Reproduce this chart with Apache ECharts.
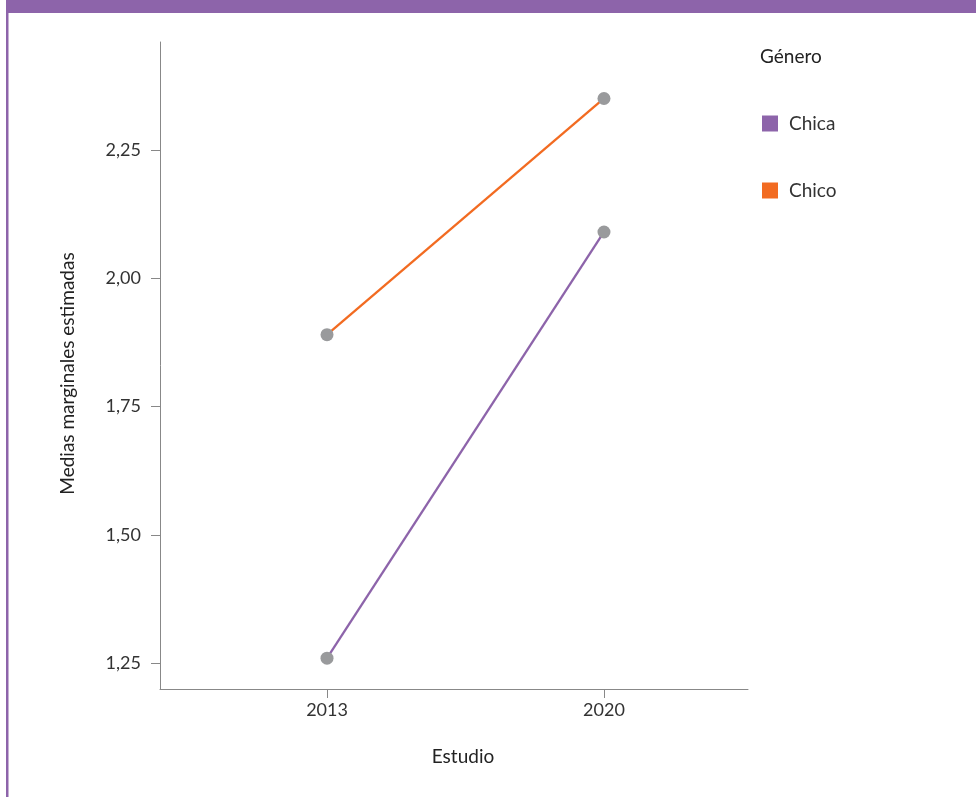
<!DOCTYPE html>
<html><head><meta charset="utf-8">
<script src="https://cdn.jsdelivr.net/npm/echarts@6/dist/echarts.min.js"></script>
<style>html,body{margin:0;padding:0;background:#fff}#c{width:976px;height:797px}</style>
</head><body><div id="c"></div>
<script>
const years = ['2013', '2020'];
const chica = [1.26, 2.09];
const chico = [1.89, 2.35];
const yTicks = [1.25, 1.5, 1.75, 2.0, 2.25];
const seriesNames = ['Chica', 'Chico'];
const colors = ['#8d64aa', '#f26b21'];

const chart = echarts.init(document.getElementById('c'), null, {renderer: 'canvas'});
const font = 'Lato, "Open Sans", sans-serif';
const xs = years.map((y, i) => i);
function toPts(vals) { return vals.map((v, i) => [xs[i], v]); }

chart.setOption({
  animation: false,
  textStyle: {fontFamily: font},
  graphic: [
    {type: 'rect', shape: {x: 6, y: 0, width: 970, height: 13}, style: {fill: '#8d64aa'}},
    {type: 'rect', shape: {x: 6, y: 0, width: 2.5, height: 797}, style: {fill: '#8d64aa'}}
  ],
  title: {text: 'Género', left: 760, top: 47, padding: 0, textStyle: {fontSize: 19, fontWeight: 'normal', color: '#222', fontFamily: font}},
  legend: {
    orient: 'vertical', left: 762, top: 114, padding: 0, itemWidth: 16, itemHeight: 16, itemGap: 48,
    icon: 'rect',
    textStyle: {fontSize: 19, lineHeight: 16, color: '#333', fontFamily: font, padding: [0, 0, 0, 6]},
    data: seriesNames.map((n, i) => ({name: n, itemStyle: {color: colors[i]}}))
  },
  grid: {left: 160, right: 228, top: 42, bottom: 108},
  xAxis: {
    type: 'value', min: -0.603, max: 1.52,
    name: 'Estudio', nameLocation: 'middle', nameGap: 58,
    nameTextStyle: {fontSize: 19, color: '#222', fontFamily: font, padding: [0, 0, 0, 18]},
    axisLine: {show: true, onZero: false, lineStyle: {color: '#888', width: 1}},
    axisTick: {show: true, length: 9, customValues: xs, lineStyle: {color: '#888'}},
    axisLabel: {customValues: xs, formatter: v => years[Math.round(v)], fontSize: 18, color: '#333', margin: 12, fontFamily: font},
    splitLine: {show: false}
  },
  yAxis: {
    type: 'value', min: 1.2, max: 2.46,
    name: 'Medias marginales estimadas', nameLocation: 'middle', nameGap: 83, nameRotate: 90,
    nameTextStyle: {fontSize: 19, color: '#222', fontFamily: font, padding: [0, 16, 0, 0]},
    axisLine: {show: true, onZero: false, lineStyle: {color: '#888', width: 1}},
    axisTick: {show: true, length: 9, customValues: yTicks, lineStyle: {color: '#888'}},
    axisLabel: {customValues: yTicks, formatter: v => v.toFixed(2).replace('.', ','), fontSize: 18, color: '#333', margin: 19, fontFamily: font},
    splitLine: {show: false}
  },
  series: [chica, chico].map((vals, i) => ({
    name: seriesNames[i], type: 'line', data: toPts(vals),
    symbol: 'circle', symbolSize: 13,
    itemStyle: {color: '#999a9c'},
    lineStyle: {color: colors[i], width: 2.3}
  }))
});
</script></body></html>
